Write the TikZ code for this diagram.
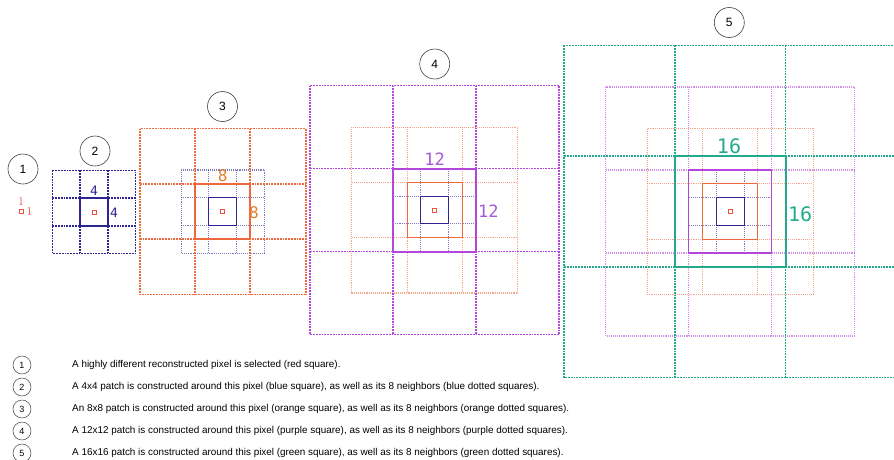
\documentclass[tikz,border=0pt]{standalone}
\usepackage{fontspec}
\newfontfamily\legendfont{Liberation Sans}
\newfontfamily\sizefont{DejaVu Sans Mono}
\usetikzlibrary{calc}
\definecolor{pixred}{RGB}{235,80,65}
\definecolor{patchblue}{RGB}{45,35,145}
\definecolor{patchorange}{RGB}{240,105,60}
\definecolor{labelorange}{RGB}{228,125,40}
\definecolor{patchpurple}{RGB}{180,70,220}
\definecolor{labelpurple}{RGB}{165,90,215}
\definecolor{patchgreen}{RGB}{35,170,140}
% 3x3 grid of patches: centre x, centre y, patch size, style
\newcommand{\patchgrid}[4]{
  \draw[#4] ({#1-1.5*#3},{#2-1.5*#3}) rectangle ({#1+1.5*#3},{#2+1.5*#3});
  \foreach \k in {-0.5,0.5} {
    \draw[#4] ({#1+\k*#3},{#2-1.5*#3}) -- ({#1+\k*#3},{#2+1.5*#3});
    \draw[#4] ({#1-1.5*#3},{#2+\k*#3}) -- ({#1+1.5*#3},{#2+\k*#3});
  }}
% centre patch: centre x, centre y, patch size, style
\newcommand{\patchsq}[4]{\draw[#4] ({#1-0.5*#3},{#2-0.5*#3}) rectangle ({#1+0.5*#3},{#2+0.5*#3});}
% the selected pixel
\newcommand{\selpixel}[2]{\draw[pixred, line width=0.8pt] ({#1-1.9},{#2-1.9}) rectangle ({#1+1.9},{#2+1.9});}
\tikzset{
  gridbold/.style={densely dotted, line width=1.8pt},
  gridfaint/.style={densely dotted, line width=1.1pt, opacity=0.6},
  sqbold/.style={line width=2pt},
  sqthin/.style={line width=1.1pt},
  stepnum/.style={circle, draw=black!75, line width=0.6pt, minimum size=30pt, inner sep=0pt, font=\legendfont\fontsize{12}{12}\selectfont},
  legnum/.style={circle, draw=black!75, line width=0.5pt, minimum size=18pt, inner sep=0pt, font=\legendfont\fontsize{9}{9}\selectfont},
  legtext/.style={anchor=west, inner sep=0pt, font=\legendfont\fontsize{9.9}{11}\selectfont},
  sizelab/.style={inner sep=0pt, font=\sizefont}
}

\begin{document}
\begin{tikzpicture}[x=1pt,y=-1pt]
\clip (0,0) rectangle (894,459);
% step 1
\node[stepnum] (s1) at (23,169) {1};
\selpixel{21}{211.5}
\node[text=pixred, inner sep=0pt, font=\fontsize{12}{12}\selectfont] (p1top) at (21,202) {1};
\node[text=pixred, inner sep=0pt, font=\fontsize{12}{12}\selectfont] (p1side) at (29.5,212) {1};
% step 2
\node[stepnum] (s2) at (95,151) {2};
\patchgrid{94}{212}{27.7}{patchblue, gridbold}
\patchsq{94}{212}{27.7}{patchblue, sqbold}
\selpixel{94}{212}
\node[sizelab, text=patchblue, anchor=south, font=\sizefont\fontsize{13}{13}\selectfont] (b2top) at (94,196) {4};
\node[sizelab, text=patchblue, anchor=west, font=\sizefont\fontsize{13}{13}\selectfont] (b2side) at (110,213) {4};
% step 3
\node[stepnum] (s3) at (222.5,106.5) {3};
\patchgrid{222.7}{211.5}{27.7}{patchblue, gridfaint}
\patchgrid{222.7}{211.5}{55.3}{patchorange, gridbold}
\patchsq{222.7}{211.5}{27.7}{patchblue, sqthin}
\patchsq{222.7}{211.5}{55.3}{patchorange, sqbold}
\selpixel{222.7}{211.5}
\node[sizelab, text=labelorange, anchor=south, font=\sizefont\fontsize{16}{16}\selectfont] (o3top) at (222.7,182) {8};
\node[sizelab, text=labelorange, anchor=west, font=\sizefont\fontsize{16}{16}\selectfont] (o3side) at (249,213) {8};
% step 4
\node[stepnum] (s4) at (434.7,64) {4};
\patchgrid{434.7}{210}{55.3}{patchorange, gridfaint}
\patchgrid{434.7}{210}{27.7}{patchblue, gridfaint}
\patchgrid{434.7}{210}{83}{patchpurple, gridbold}
\patchsq{434.7}{210}{27.7}{patchblue, sqthin}
\patchsq{434.7}{210}{55.3}{patchorange, sqthin}
\patchsq{434.7}{210}{83}{patchpurple, sqbold}
\selpixel{434.7}{210}
\node[sizelab, text=labelpurple, anchor=south, font=\sizefont\fontsize{17}{17}\selectfont] (u4top) at (434.7,166) {12};
\node[sizelab, text=labelpurple, anchor=west, font=\sizefont\fontsize{17}{17}\selectfont] (u4side) at (478,211) {12};
% step 5
\node[stepnum] (s5) at (729.3,22.5) {5};
\patchgrid{730.2}{211.5}{83}{patchpurple, gridfaint}
\patchgrid{730.2}{211.5}{55.3}{patchorange, gridfaint}
\patchgrid{730.2}{211.5}{27.7}{patchblue, gridfaint}
\patchgrid{730.2}{211.5}{110.7}{patchgreen, gridbold}
\patchsq{730.2}{211.5}{27.7}{patchblue, sqthin}
\patchsq{730.2}{211.5}{55.3}{patchorange, sqthin}
\patchsq{730.2}{211.5}{83}{patchpurple, sqthin}
\patchsq{730.2}{211.5}{110.7}{patchgreen, sqbold}
\selpixel{730.2}{211.5}
\node[sizelab, text=patchgreen, anchor=south, font=\sizefont\fontsize{20}{20}\selectfont] (g5top) at (729,154) {16};
\node[sizelab, text=patchgreen, anchor=west, font=\sizefont\fontsize{20}{20}\selectfont] (g5side) at (788,214) {16};
% legend
\node[legnum] (l1) at (22,365) {1};
\node[legnum] (l2) at (22,387) {2};
\node[legnum] (l3) at (22,409) {3};
\node[legnum] (l4) at (22,431) {4};
\node[legnum] (l5) at (22,453) {5};
\node[legtext] (t1) at (72,365) {A highly different reconstructed pixel is selected (red square).};
\node[legtext] (t2) at (72,387) {A 4x4 patch is constructed around this pixel (blue square), as well as its 8 neighbors (blue dotted squares).};
\node[legtext] (t3) at (72,409) {An 8x8 patch is constructed around this pixel (orange square), as well as its 8 neighbors (orange dotted squares).};
\node[legtext] (t4) at (72,431) {A 12x12 patch is constructed around this pixel (purple square), as well as its 8 neighbors (purple dotted squares).};
\node[legtext] (t5) at (72,453) {A 16x16 patch is constructed around this pixel (green square), as well as its 8 neighbors (green dotted squares).};
\end{tikzpicture}
\end{document}
